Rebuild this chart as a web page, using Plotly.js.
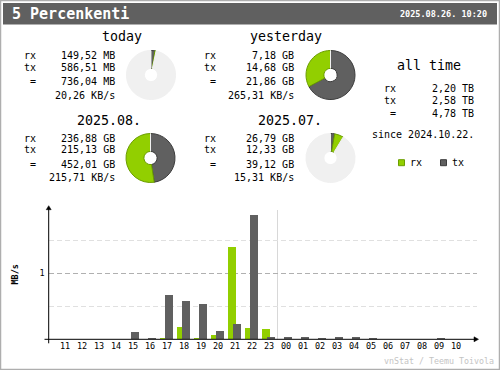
<!DOCTYPE html>
<html>
<head>
<meta charset="utf-8">
<script src="https://cdn.plot.ly/plotly-3.0.1.min.js"></script>
<style>
html,body{margin:0;padding:0;background:#fff;}
#chart{width:500px;height:370px;}
</style>
</head>
<body>
<div id="chart"></div>
<script>
// ---------- DATA ----------
const interfaceName = '5 Percenkenti';
const updatedAt = '2025.08.26. 10:20';
const periodTitles = ['today', 'yesterday', '2025.08.', '2025.07.'];
const rxValues = [149.52, 7.18, 236.88, 26.79];
const txValues = [586.51, 14.68, 215.13, 12.33];
const totalValues = [736.04, 21.86, 452.01, 39.12];
const valueUnits = ['MB', 'GB', 'GB', 'GB'];
const rateValues = [20.26, 265.31, 215.71, 15.31];
const rateUnit = 'KB/s';
const allTimeLabels = ['rx', 'tx', '='];
const allTimeValues = [2.20, 2.58, 4.78];
const allTimeUnit = 'TB';
const sinceDate = '2024.10.22.';
const hours = ['11','12','13','14','15','16','17','18','19','20','21','22','23',
               '00','01','02','03','04','05','06','07','08','09','10'];
const rxRates = [0,0,0,0,0,0,0.02,0.19,0.02,0.07,1.40,0.176,0.156,
                 0,0,0,0,0,0,0,0,0,0,0];
const txRates = [0,0,0,0,0.115,0.02,0.675,0.585,0.54,0.13,0.236,1.88,0.035,
                 0.035,0.035,0.02,0.035,0.035,0.02,0,0,0,0.02,0];
const yTickVals = [1];
const yTickText = ['1'];
const rateAxisTitle = 'MB/s';
const credit = 'vnStat / Teemu Toivola';

// ---------- STYLE / LAYOUT ----------
const W = 500, H = 370;
const px = x => x / W;
const py = y => 1 - y / H;
const MONO = '"DejaVu Sans Mono", "Liberation Mono", monospace';
const C_RX = '#92cf00', C_RXD = '#6b9d00';
const C_TX = '#606060', C_TXD = '#3c3c3c';
const C_PIEBG = '#f0f0f0';
const unitFactor = {MB: 1, GB: 1024, TB: 1024 * 1024};
const fmt = v => v.toFixed(2).replace('.', ',');

const blocks = [
  {titleX: 122, titleY: 37, labelX: 37, valueX: 116, rows: [55, 67, 81, 95], pie: [151, 75], cmp: 1},
  {titleX: 286, titleY: 37, labelX: 217, valueX: 295, rows: [55, 67, 81, 95], pie: [330.5, 75], cmp: 0},
  {titleX: 109, titleY: 120, labelX: 37, valueX: 116, rows: [138, 149.5, 164, 177.5], pie: [150.5, 158], cmp: 3},
  {titleX: 289.5, titleY: 120, labelX: 217, valueX: 295, rows: [138, 149.5, 164, 177.5], pie: [330.5, 158], cmp: 2}
];
const PIE_D = 49;

const annotations = [];
function txt(x, y, text, o) {
  o = o || {};
  annotations.push({
    xref: 'paper', yref: 'paper', x: px(x), y: py(y), text: text,
    showarrow: false, xanchor: o.anchor || 'left', yanchor: 'middle',
    textangle: o.angle || 0, borderpad: 0,
    font: {family: MONO, size: o.size || 10, color: o.color || '#000', weight: o.weight || 'normal'}
  });
}

// header
txt(11, 14, interfaceName, {size: 15, color: '#ffffff', weight: 'bold'});
txt(488, 14, updatedAt, {size: 8.5, color: '#ffffff', weight: 'bold', anchor: 'right'});

const traces = [];
blocks.forEach((b, i) => {
  const u = valueUnits[i];
  txt(b.titleX, b.titleY, periodTitles[i], {size: 13.3, anchor: 'center'});
  txt(b.labelX, b.rows[0], 'rx', {anchor: 'right'});
  txt(b.labelX, b.rows[1], 'tx', {anchor: 'right'});
  txt(b.labelX, b.rows[2], '=', {anchor: 'right'});
  txt(b.valueX, b.rows[0], fmt(rxValues[i]) + ' ' + u, {anchor: 'right'});
  txt(b.valueX, b.rows[1], fmt(txValues[i]) + ' ' + u, {anchor: 'right'});
  txt(b.valueX, b.rows[2], fmt(totalValues[i]) + ' ' + u, {anchor: 'right'});
  txt(b.valueX, b.rows[3], fmt(rateValues[i]) + ' ' + rateUnit, {anchor: 'right'});

  const f = unitFactor[u];
  const own = totalValues[i] * f;
  const other = totalValues[b.cmp] * unitFactor[valueUnits[b.cmp]];
  const maxT = Math.max(own, other);
  const rest = Math.max(0, maxT - own);
  const [cx, cy] = b.pie;
  traces.push({
    type: 'pie', sort: false, direction: 'clockwise', rotation: 0,
    values: [txValues[i] * f, rxValues[i] * f, rest],
    marker: {colors: [C_TX, C_RX, C_PIEBG], line: {color: [C_TXD, C_RXD, C_PIEBG], width: 1}},
    hole: 0.27, textinfo: 'none', hoverinfo: 'skip', showlegend: false,
    domain: {x: [px(cx - PIE_D / 2), px(cx + PIE_D / 2)], y: [py(cy + PIE_D / 2), py(cy - PIE_D / 2)]}
  });
});

// all time
txt(428.7, 65, 'all time', {size: 13.3, anchor: 'center'});
const allRows = [88.3, 100, 113.3];
allTimeLabels.forEach((l, i) => {
  txt(397, allRows[i], l, {anchor: 'right'});
  txt(474.5, allRows[i], fmt(allTimeValues[i]) + ' ' + allTimeUnit, {anchor: 'right'});
});
txt(422.7, 134.3, 'since ' + sinceDate, {anchor: 'center'});
// legend
txt(408.5, 162.5, 'rx');
txt(450.5, 162.5, 'tx');

// axis titles / credit
txt(14, 274.5, rateAxisTitle, {size: 8.5, angle: -90, anchor: 'center', weight: 'bold'});
txt(494.5, 361, credit, {size: 8.3, anchor: 'right', color: '#c4c4c4'});

// bars
const idx = hours.map((h, i) => i);
traces.push({
  type: 'bar', x: idx, y: rxRates, width: 0.49, offset: -0.41,
  marker: {color: C_RX, line: {width: 0}}, hoverinfo: 'skip', showlegend: false,
  xaxis: 'x', yaxis: 'y'
});
traces.push({
  type: 'bar', x: idx, y: txRates, width: 0.49, offset: -0.12,
  marker: {color: C_TX, line: {width: 0}}, hoverinfo: 'skip', showlegend: false,
  xaxis: 'x', yaxis: 'y'
});

const AX_L = 48.7, AX_R = 477, AX_B = 339.3, AX_T = 207.7;
const SLOT0 = 65, SLOT = 17, PXPER = 66;

const shapes = [
  // outer frame
  {type: 'rect', xref: 'paper', yref: 'paper', x0: 0, x1: 1, y0: 0, y1: 1,
   line: {color: '#aeaeae', width: 2.5}, fillcolor: 'rgba(0,0,0,0)', layer: 'below'},
  // header
  {type: 'rect', xref: 'paper', yref: 'paper', x0: px(3), x1: px(497), y0: py(24.5), y1: py(3),
   line: {width: 0}, fillcolor: '#606060', layer: 'below'},
  // legend swatches
  {type: 'rect', xref: 'paper', yref: 'paper', x0: px(398.5), x1: px(404.5), y0: py(165.7), y1: py(159.7),
   line: {color: C_RXD, width: 1}, fillcolor: C_RX},
  {type: 'rect', xref: 'paper', yref: 'paper', x0: px(440.5), x1: px(446.5), y0: py(165.7), y1: py(159.7),
   line: {color: C_TXD, width: 1}, fillcolor: C_TX},
  // day separator
  {type: 'line', xref: 'x', yref: 'paper', x0: 12.5, x1: 12.5, y0: py(AX_B), y1: py(210),
   line: {color: '#d8d8d8', width: 1}, layer: 'below'},
  // axis lines
  {type: 'line', xref: 'paper', yref: 'paper', x0: px(44.5), x1: px(AX_R), y0: py(AX_B), y1: py(AX_B),
   line: {color: '#000', width: 1}},
  {type: 'line', xref: 'paper', yref: 'paper', x0: px(AX_L), x1: px(AX_L), y0: py(AX_B + 4), y1: py(AX_T),
   line: {color: '#000', width: 1}},
  // arrow heads
  {type: 'path', xref: 'paper', yref: 'paper',
   path: `M ${px(AX_L - 2.5)} ${py(AX_T + 2)} L ${px(AX_L + 2.5)} ${py(AX_T + 2)} L ${px(AX_L)} ${py(AX_T - 2)} Z`,
   fillcolor: '#000', line: {color: '#000', width: 0.5}},
  {type: 'path', xref: 'paper', yref: 'paper',
   path: `M ${px(AX_R - 3)} ${py(AX_B - 2.5)} L ${px(AX_R - 3)} ${py(AX_B + 2.5)} L ${px(AX_R + 1.5)} ${py(AX_B)} Z`,
   fillcolor: '#000', line: {color: '#000', width: 0.5}}
];

const layout = {
  width: W, height: H, margin: {l: 0, r: 0, t: 0, b: 0, pad: 0},
  paper_bgcolor: '#ffffff', plot_bgcolor: 'rgba(0,0,0,0)',
  barmode: 'overlay', bargap: 0,
  showlegend: false,
  font: {family: MONO, color: '#000'},
  xaxis: {
    domain: [px(AX_L), px(AX_R)],
    range: [(AX_L - SLOT0) / SLOT, (AX_R - SLOT0) / SLOT],
    tickvals: idx, ticktext: hours, ticks: '', showgrid: false, zeroline: false, showline: false,
    tickfont: {family: MONO, size: 8.5, color: '#000'}, fixedrange: true
  },
  yaxis: {
    domain: [py(AX_B), py(AX_T)],
    range: [0, (AX_B - AX_T) / PXPER],
    tickvals: yTickVals, ticktext: yTickText, ticks: '', ticklabelstandoff: 3,
    showgrid: true, gridcolor: '#b0b0b0', griddash: '5px,3px', gridwidth: 1,
    minor: {tickvals: [0.5, 1.5], showgrid: true, gridcolor: '#e0e0e0', griddash: '5px,3px', gridwidth: 1, ticks: ''},
    zeroline: false, showline: false,
    tickfont: {family: MONO, size: 8.5, color: '#000'}, fixedrange: true
  },
  shapes: shapes,
  annotations: annotations
};

Plotly.newPlot('chart', traces, layout, {staticPlot: true, displayModeBar: false});
</script>
</body>
</html>
